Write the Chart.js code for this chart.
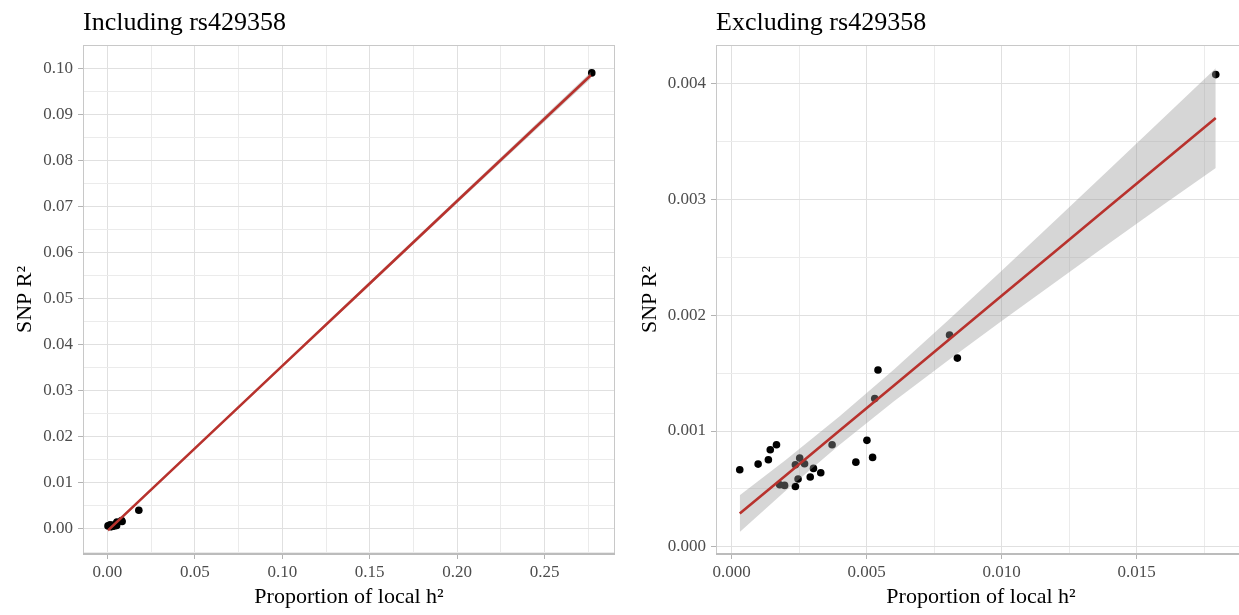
<!DOCTYPE html>
<html>
<head>
<meta charset="utf-8">
<title>SNP R2 vs proportion of local h2</title>
<script src="https://cdn.jsdelivr.net/npm/chart.js@4.4.1/dist/chart.umd.min.js"></script>
<style>
  body { margin: 0; background: #fff; }
  #page { position: relative; width: 1239px; height: 615px; overflow: hidden; }
  #inclChart { position: absolute; left: 0; top: 0; }
  #exclChart { position: absolute; left: 620px; top: 0; }
</style>
</head>
<body>
<div id="page">
  <canvas id="inclChart" width="620" height="615"></canvas>
  <canvas id="exclChart" width="630" height="615"></canvas>
</div>
<script>
// SNPs in the locus (rs429358 kept separate)
const snpH2 = [0.00030, 0.00098, 0.00136, 0.00143, 0.00166, 0.00178, 0.00196, 0.00236,
  0.00236, 0.00246, 0.00252, 0.00270, 0.00291, 0.00303, 0.00330, 0.00372, 0.00460,
  0.00501, 0.00522, 0.00530, 0.00542, 0.00807, 0.00836, 0.01793];
const snpR2 = [0.000665, 0.000714, 0.000752, 0.000838, 0.000881, 0.000536, 0.000530, 0.000521,
  0.000708, 0.000585, 0.000766, 0.000717, 0.000602, 0.000677, 0.000639, 0.000881, 0.000731,
  0.000919, 0.000772, 0.001280, 0.001527, 0.001830, 0.001630, 0.004080];
const rs429358H2 = 0.2770;
const rs429358R2 = 0.0990;

// lm fit + 95% band, with rs429358
const inclFitX = [0.0003, 0.0500, 0.1000, 0.1500, 0.2000, 0.2765];
const inclFitY = [-0.0003, 0.0175, 0.0354, 0.0533, 0.0712, 0.0985];
const inclUpper = [0.0000, 0.01775, 0.0357, 0.0537, 0.0717, 0.0992];
const inclLower = [-0.0006, 0.01725, 0.0351, 0.0529, 0.0707, 0.0978];

// lm fit + 95% band, without rs429358
const exclFitX = [0.0003, 0.002, 0.004, 0.006, 0.008, 0.010, 0.012, 0.014, 0.016, 0.01793];
const exclFitY = [0.000286, 0.000616, 0.001004, 0.001392, 0.001780, 0.002168, 0.002556, 0.002944, 0.003332, 0.003706];
const exclUpper = [0.000445, 0.000749, 0.001127, 0.001530, 0.001953, 0.002386, 0.002824, 0.003264, 0.003707, 0.004135];
const exclLower = [0.000127, 0.000483, 0.000881, 0.001254, 0.001607, 0.001950, 0.002288, 0.002624, 0.002957, 0.003272];

// tick values
const inclXMajor = [0, 0.05, 0.10, 0.15, 0.20, 0.25];
const inclXMinor = [0.025, 0.075, 0.125, 0.175, 0.225, 0.275];
const inclYMajor = [0, 0.01, 0.02, 0.03, 0.04, 0.05, 0.06, 0.07, 0.08, 0.09, 0.10];
const inclYMinor = [-0.005, 0.005, 0.015, 0.025, 0.035, 0.045, 0.055, 0.065, 0.075, 0.085, 0.095];
const exclXMajor = [0, 0.005, 0.010, 0.015];
const exclXMinor = [0.0025, 0.0075, 0.0125, 0.0175];
const exclYMajor = [0, 0.001, 0.002, 0.003, 0.004];
const exclYMinor = [0.0005, 0.0015, 0.0025, 0.0035];

const SERIF = '"Liberation Serif", "Times New Roman", serif';
const TEXT_GREY = '#4d4d4d';

const pairs = (xs, ys) => xs.map((x, i) => ({ x: x, y: ys[i] }));
const isIn = (list, v) => list.some(m => Math.abs(m - v) < 1e-9);

// frame around the panel + left-aligned panel title
const panelFrame = {
  id: 'panelFrame',
  beforeDatasetsDraw(chart) {
    const { ctx, chartArea: a } = chart;
    ctx.save();
    ctx.strokeStyle = '#c8c8c8';
    ctx.lineWidth = 1;
    ctx.strokeRect(a.left + 0.5, a.top + 0.5, a.width - 1, a.height - 1);
    ctx.strokeStyle = '#bcbcbc';
    ctx.lineWidth = 2;
    ctx.beginPath();
    ctx.moveTo(a.left, a.bottom);
    ctx.lineTo(a.right, a.bottom);
    ctx.stroke();
    ctx.restore();
  },
  afterDraw(chart, args, opts) {
    const { ctx, chartArea: a } = chart;
    ctx.save();
    ctx.fillStyle = '#000';
    ctx.font = '26px ' + SERIF;
    ctx.textAlign = 'left';
    ctx.textBaseline = 'alphabetic';
    ctx.fillText(opts.text, a.left, 30);
    ctx.restore();
  }
};

function axis(cfg) {
  const all = cfg.major.concat(cfg.minor).sort((a, b) => a - b);
  return {
    type: 'linear',
    min: cfg.min,
    max: cfg.max,
    afterBuildTicks: scale => { scale.ticks = all.map(v => ({ value: v })); },
    afterFit: scale => {
      if (cfg.width) scale.width = cfg.width;
      if (cfg.height) scale.height = cfg.height;
    },
    border: { display: false },
    grid: {
      color: c => isIn(cfg.major, c.tick.value) ? '#e0e0e0' : '#ebebeb',
      lineWidth: 1,
      drawTicks: true,
      tickLength: 5,
      tickColor: c => isIn(cfg.major, c.tick.value) ? '#b3b3b3' : 'rgba(0,0,0,0)'
    },
    ticks: {
      autoSkip: false,
      maxRotation: 0,
      padding: cfg.tickPad,
      color: TEXT_GREY,
      font: { family: SERIF, size: 17 },
      callback: v => isIn(cfg.major, v) ? v.toFixed(cfg.digits) : ''
    },
    title: {
      display: true,
      text: cfg.title,
      color: '#000',
      font: { family: SERIF, size: 22 },
      padding: cfg.titlePad
    }
  };
}

function makePanel(id, p) {
  new Chart(document.getElementById(id), {
    type: 'scatter',
    data: {
      datasets: [
        {
          data: pairs(p.h2, p.r2),
          backgroundColor: '#000',
          borderWidth: 0,
          pointRadius: 3.8,
          order: 4
        },
        {
          type: 'line',
          data: pairs(p.fitX, p.upper),
          borderWidth: 0,
          pointRadius: 0,
          backgroundColor: 'rgba(153,153,153,0.4)',
          fill: '+1',
          order: 3
        },
        {
          type: 'line',
          data: pairs(p.fitX, p.lower),
          borderWidth: 0,
          pointRadius: 0,
          fill: false,
          order: 3
        },
        {
          type: 'line',
          data: pairs(p.fitX, p.fitY),
          borderColor: '#b8322d',
          borderWidth: 2.6,
          pointRadius: 0,
          fill: false,
          order: 1
        }
      ]
    },
    options: {
      responsive: false,
      animation: false,
      layout: { padding: { top: 45, right: p.padRight, left: 0, bottom: 0 } },
      plugins: {
        legend: { display: false },
        tooltip: { enabled: false },
        panelFrame: { text: p.title }
      },
      scales: {
        x: axis(p.x),
        y: axis(p.y)
      }
    },
    plugins: [panelFrame]
  });
}

makePanel('inclChart', {
  title: 'Including rs429358',
  h2: snpH2.concat([rs429358H2]),
  r2: snpR2.concat([rs429358R2]),
  fitX: inclFitX, fitY: inclFitY, upper: inclUpper, lower: inclLower,
  padRight: 5,
  x: { min: -0.0140, max: 0.2903, major: inclXMajor, minor: inclXMinor, digits: 2, height: 61,
       tickPad: 3, title: 'Proportion of local h²', titlePad: { top: 0, bottom: 5 } },
  y: { min: -0.00543, max: 0.10506, major: inclYMajor, minor: inclYMinor, digits: 2, width: 83,
       tickPad: 5, title: 'SNP R²', titlePad: { top: 12, bottom: 0 } }
});

makePanel('exclChart', {
  title: 'Excluding rs429358',
  h2: snpH2,
  r2: snpR2,
  fitX: exclFitX, fitY: exclFitY, upper: exclUpper, lower: exclLower,
  padRight: 0,
  x: { min: -0.00058, max: 0.01905, major: exclXMajor, minor: exclXMinor, digits: 3, height: 61,
       tickPad: 3, title: 'Proportion of local h²', titlePad: { top: 0, bottom: 5 } },
  y: { min: -0.000063, max: 0.004336, major: exclYMajor, minor: exclYMinor, digits: 3, width: 96,
       tickPad: 5, title: 'SNP R²', titlePad: { top: 17, bottom: 0 } }
});
</script>
</body>
</html>
